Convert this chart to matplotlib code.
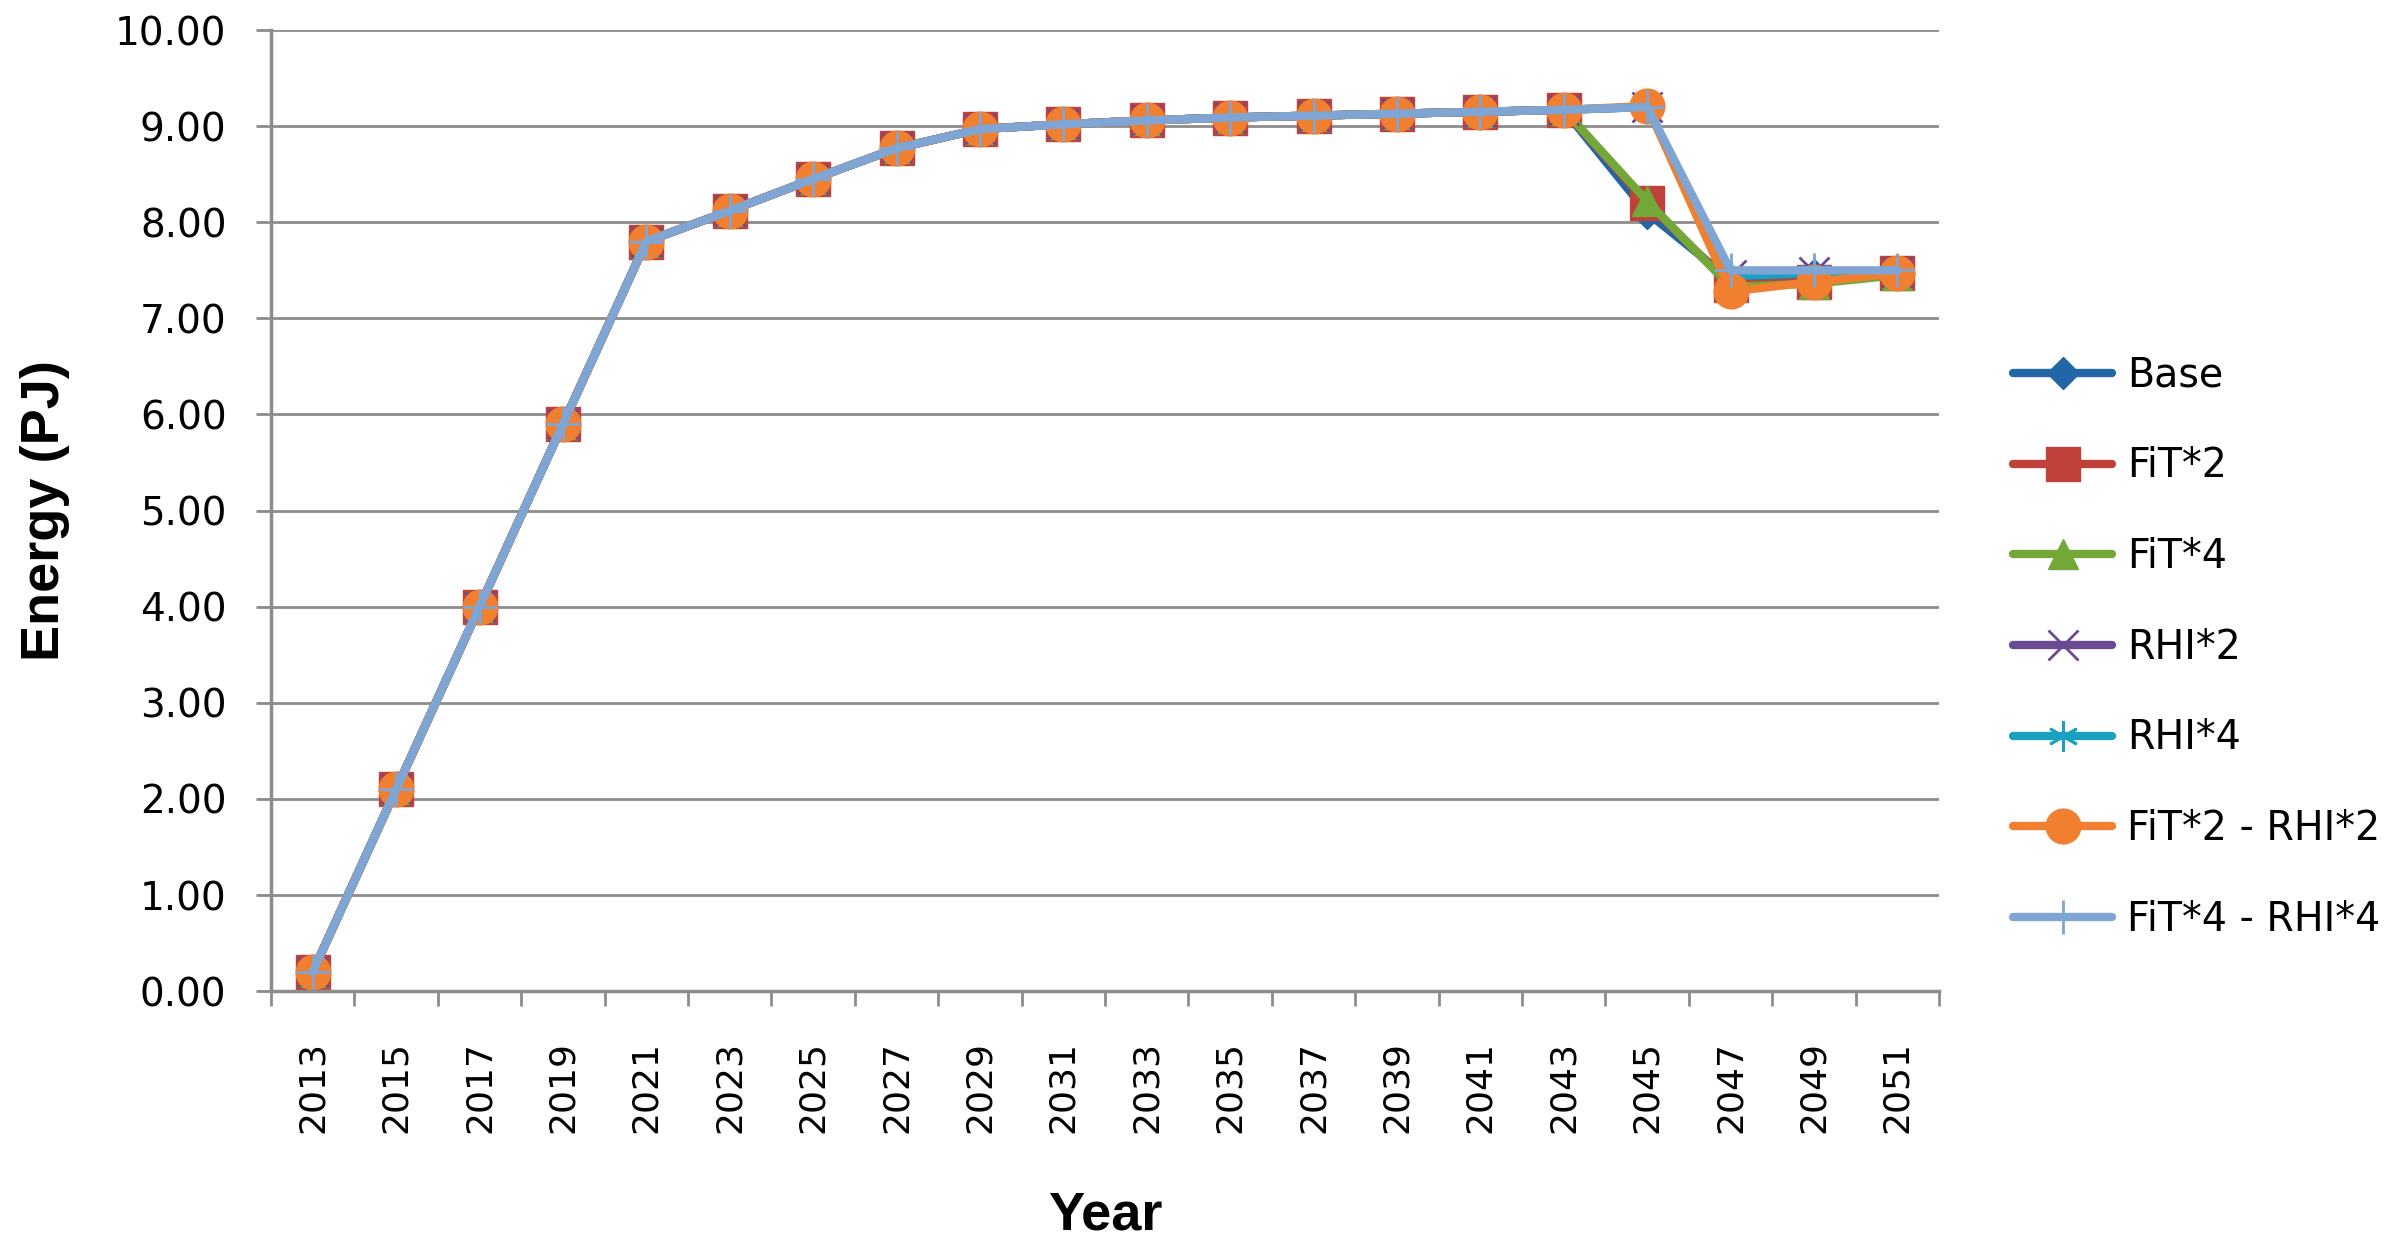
import matplotlib
matplotlib.use("Agg")
import matplotlib.pyplot as plt
import numpy as np

years = [str(y) for y in range(2013, 2052, 2)]
common = [0.20, 2.10, 4.00, 5.90, 7.80, 8.12, 8.45, 8.77, 8.97, 9.02,
          9.06, 9.09, 9.11, 9.13, 9.15, 9.17]
base = common + [8.10, 7.40, 7.45, 7.48]
fit2 = common + [8.20, 7.35, 7.38, 7.47]
fit4 = common + [8.22, 7.33, 7.36, 7.45]
rhi2 = common + [9.20, 7.45, 7.48, 7.48]
rhi4 = common + [9.20, 7.44, 7.47, 7.48]
fit2_rhi2 = common + [9.21, 7.28, 7.38, 7.47]
fit4_rhi4 = common + [9.20, 7.50, 7.50, 7.50]

series_names = ["Base", "FiT*2", "FiT*4", "RHI*2", "RHI*4", "FiT*2 - RHI*2", "FiT*4 - RHI*4"]
series_vals = [base, fit2, fit4, rhi2, rhi4, fit2_rhi2, fit4_rhi4]
colors = ["#2266a8", "#c0403a", "#73a838", "#6a4a94", "#1aa0c0", "#f08030", "#7fa5d4"]
markers = ["D", "s", "^", "x", "*", "o", "+"]
msizes = [16, 25, 22, 22, 22, 25, 24]

fig = plt.figure(figsize=(23.88, 12.53), dpi=100)
ax = fig.add_axes([0.1135, 0.209, 0.6985, 0.767])

x = np.arange(len(years))
for name, vals, c, m, ms in zip(series_names, series_vals, colors, markers, msizes):
    if m in ("x", "+"):
        ax.plot(x, vals, color=c, lw=6, marker=m, ms=ms, mew=2, mec=c, label=name,
                solid_capstyle="round")
    elif m == "*":
        ax.plot(x, vals, color=c, lw=6, marker=(6, 2, 0), ms=ms, mew=2, mec=c, label=name,
                solid_capstyle="round")
    else:
        ax.plot(x, vals, color=c, lw=6, marker=m, ms=ms, mfc=c, mec=c, label=name,
                solid_capstyle="round")

ax.set_xlim(-0.5, len(years) - 0.5)
ax.set_ylim(0, 10)
ax.set_yticks(np.arange(0, 10.01, 1))
ax.set_yticklabels([f"{v:.2f}" for v in np.arange(0, 10.01, 1)])
ax.yaxis.grid(True, color="#8c8c8c", lw=2)
ax.set_axisbelow(True)

ax.set_xticks(np.arange(-0.5, len(years), 1))
ax.set_xticklabels([])
ax.set_xticks(x, minor=True)
ax.set_xticklabels(years, minor=True, rotation=90, fontsize=26, family="DejaVu Sans")
ax.tick_params(axis="x", which="major", length=11, width=2, color="#8c8c8c", direction="out")
ax.tick_params(axis="x", which="minor", length=0, pad=36)
ax.tick_params(axis="y", length=11, width=2, color="#8c8c8c", pad=21, labelsize=28)

for s in ["top", "right"]:
    ax.spines[s].set_visible(False)
for s in ["left", "bottom"]:
    ax.spines[s].set_color("#8c8c8c")
    ax.spines[s].set_linewidth(2.5)

fig.text(0.019, 0.5 * (0.209 + 0.976), "Energy (PJ)", rotation=90, fontsize=39,
         fontweight="bold", family="Liberation Sans", ha="center", va="center")
fig.text(0.1135 + 0.6985 / 2, 0.030, "Year", fontsize=39, fontweight="bold",
         family="Liberation Sans", ha="center", va="center")

leg = fig.legend(loc="center left", bbox_to_anchor=(0.843, 0.483), frameon=False,
                 fontsize=28.5, handlelength=2.5, handletextpad=0.37, labelspacing=1.28,
                 borderpad=0, borderaxespad=0)

fig.savefig("out.png", dpi=100)
